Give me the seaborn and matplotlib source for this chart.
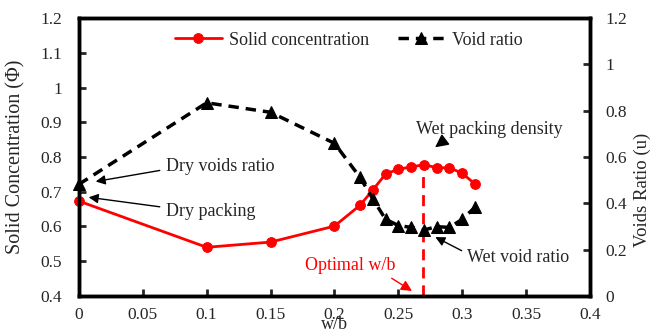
import numpy as np
import pandas as pd
import matplotlib
matplotlib.use("Agg")
import matplotlib.pyplot as plt
import seaborn as sns
from matplotlib.ticker import FuncFormatter, MultipleLocator

# ---- data ----
wb = [0.0, 0.10, 0.15, 0.20, 0.22, 0.23, 0.24, 0.25, 0.26, 0.27, 0.28, 0.29, 0.30, 0.31]
solid_conc = [0.673, 0.540, 0.555, 0.601, 0.661, 0.705, 0.751, 0.765, 0.771, 0.778, 0.769, 0.769, 0.753, 0.722]
void_ratio = [0.482, 0.834, 0.793, 0.659, 0.512, 0.419, 0.331, 0.304, 0.296, 0.285, 0.299, 0.296, 0.331, 0.383]
optimal_wb = 0.269
optimal_phi = 0.778
x_ticks = [0, 0.05, 0.1, 0.15, 0.2, 0.25, 0.3, 0.35, 0.4]

df = pd.DataFrame({"wb": wb, "phi": solid_conc, "u": void_ratio})

sns.set_style("ticks")
plt.rcParams['font.family'] = ['Liberation Serif', 'DejaVu Serif']

fig = plt.figure(figsize=(6.52, 3.34), dpi=100)
ax = fig.add_axes([0.121, 0.114, 0.784, 0.832])
ax2 = ax.twinx()

sns.lineplot(data=df, x="wb", y="phi", ax=ax, color="red", lw=2, marker="o",
             markersize=7, markeredgecolor="red", label="Solid concentration",
             legend=False, clip_on=False, zorder=3)
sns.lineplot(data=df, x="wb", y="u", ax=ax2, color="black", lw=2.5,
             linestyle=(0, (3, 2)), marker="^", markersize=8,
             markeredgecolor="black", label="Void ratio", legend=False,
             clip_on=False, zorder=3)

ax.set_xlim(0, 0.4)
ax.set_ylim(0.4, 1.2)
ax2.set_ylim(0, 1.2)
ax.set_xticks(x_ticks)
ax.yaxis.set_major_locator(MultipleLocator(0.1))
ax2.yaxis.set_major_locator(MultipleLocator(0.2))
fmt = FuncFormatter(lambda v, p: "{:g}".format(round(v, 3)))
ax.xaxis.set_major_formatter(fmt)
ax.yaxis.set_major_formatter(fmt)
ax2.yaxis.set_major_formatter(fmt)

for a in (ax, ax2):
    for s in a.spines.values():
        s.set_linewidth(2.5)
        s.set_color("black")
    a.tick_params(direction="in", length=5, width=2, labelsize=12.5, pad=8)
ax.tick_params(axis="y", pad=12)
ax2.tick_params(axis="y", pad=11)

ax.set_xlabel("w/b", fontsize=13, labelpad=-5)
ax.set_ylabel("Solid Concentration (Φ)", fontsize=14.5)
ax.yaxis.set_label_coords(-0.105, 0.5)
ax2.set_ylabel("Voids Ratio (u)", fontsize=13.5, va="center")
ax2.yaxis.set_label_coords(1.102, 0.38)

# optimal vertical line
ax.vlines(optimal_wb, 0.4, optimal_phi, colors="red", linestyles=(0, (4, 2.5)), lw=2, zorder=2)

# legend
h1, l1 = ax.get_legend_handles_labels()
h2, l2 = ax2.get_legend_handles_labels()
leg = ax2.legend(h1 + h2, l1 + l2, loc="upper center", bbox_to_anchor=(0.528, 1.01),
                 ncol=2, frameon=False, fontsize=13, handlelength=2.6,
                 columnspacing=1.6, handletextpad=0.4)

arrow_k = dict(arrowstyle="-|>", color="black", lw=1, mutation_scale=14)
ax.annotate("Dry voids ratio", xy=(0.011, 0.728), xytext=(0.068, 0.774),
            fontsize=13, ha="left", va="center",
            arrowprops=dict(arrow_k, relpos=(0, 0.3)))
ax.annotate("Dry packing", xy=(0.0055, 0.685), xytext=(0.068, 0.642),
            fontsize=13, ha="left", va="center",
            arrowprops=dict(arrow_k, relpos=(0, 0.75)))
ax.annotate("Wet packing density", xy=(0.277, 0.823), xytext=(0.264, 0.878),
            fontsize=13, ha="left", va="center",
            arrowprops=dict(arrow_k, relpos=(0.24, 0.2), mutation_scale=20))
ax.annotate("Wet void ratio", xy=(0.277, 0.573), xytext=(0.304, 0.512),
            fontsize=13, ha="left", va="center",
            arrowprops=dict(arrow_k, relpos=(0, 0.7)))
ax.annotate("Optimal w/b", xy=(0.2625, 0.41), xytext=(0.1766, 0.489),
            fontsize=13, ha="left", va="center", color="red",
            arrowprops=dict(arrowstyle="-|>", color="red", lw=1, mutation_scale=16,
                            relpos=(0.85, 0.1)))

fig.savefig("out.png", dpi=100)
